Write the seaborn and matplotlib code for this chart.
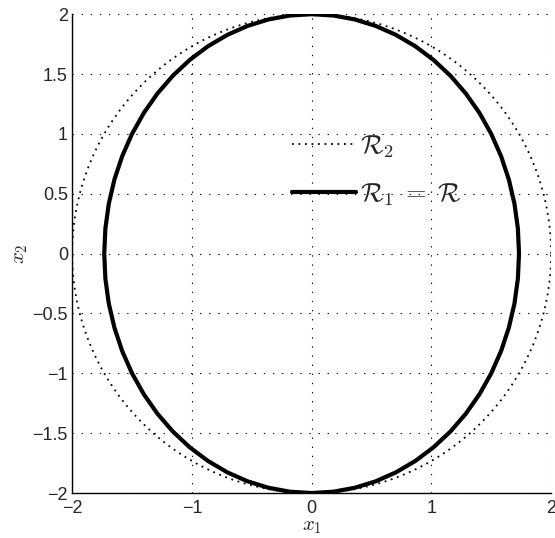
import numpy as np
import pandas as pd
import matplotlib
matplotlib.use("Agg")
import matplotlib.pyplot as plt
import seaborn as sns

# semi-axes (x, y)
r2_axes = [2.0, 2.0]
r1_axes = [1.732, 2.0]
n_pts = [200, 60]

sns.set_style("white")
plt.rcParams['font.family'] = ['Liberation Sans', 'DejaVu Sans']
plt.rcParams['mathtext.fontset'] = 'cm'
plt.rcParams['axes.unicode_minus'] = True

def ellipse(ax_len, n, name):
    t = np.linspace(0, 2 * np.pi, n + 1)
    return pd.DataFrame({'x1': ax_len[0] * np.cos(t), 'x2': ax_len[1] * np.sin(t), 'set': name})

df2 = ellipse(r2_axes, n_pts[0], 'R2')
df1 = ellipse(r1_axes, n_pts[1], 'R1')

fig = plt.figure(figsize=(5.55, 5.38), dpi=100)
ax = fig.add_axes([0.130, 0.0836, 0.863, 0.890])

sns.lineplot(data=df2, x='x1', y='x2', sort=False, estimator=None, ax=ax,
             color='black', linestyle=(0, (1.0, 2.6)), linewidth=1.3, label=r'$\mathcal{R}_2$')
sns.lineplot(data=df1, x='x1', y='x2', sort=False, estimator=None, ax=ax,
             color='black', linestyle='-', linewidth=3, label=r'$\mathcal{R}_1\;=\;\mathcal{R}$')

ax.set_xlim(-2, 2)
ax.set_ylim(-2, 2)
ax.set_xticks([-2, -1, 0, 1, 2])
ax.set_yticks(np.arange(-2, 2.01, 0.5))
ax.set_yticklabels(['−2', '−1.5', '−1', '−0.5', '0', '0.5', '1', '1.5', '2'])
ax.set_xticklabels(['−2', '−1', '0', '1', '2'])
ax.grid(True, linestyle=(0, (1.2, 7.0)), color='black', linewidth=0.8)
ax.tick_params(direction='in', length=4, labelsize=13, color='black')
ax.tick_params(axis='x', pad=5)
ax.tick_params(axis='y', pad=3)
for s in ['top', 'right']:
    ax.spines[s].set_visible(False)
for s in ['left', 'bottom']:
    ax.spines[s].set_color('black')
    ax.spines[s].set_linewidth(1)

ax.set_xlabel('$x_1$', fontsize=15, labelpad=0)
ax.set_ylabel('$x_2$', fontsize=15, labelpad=2)

ax.legend(loc='upper left', bbox_to_anchor=(0.41, 0.80), frameon=False,
          fontsize=19, handlelength=2.4, handletextpad=0.15, labelspacing=0.8)

fig.savefig('out.png', dpi=100)
